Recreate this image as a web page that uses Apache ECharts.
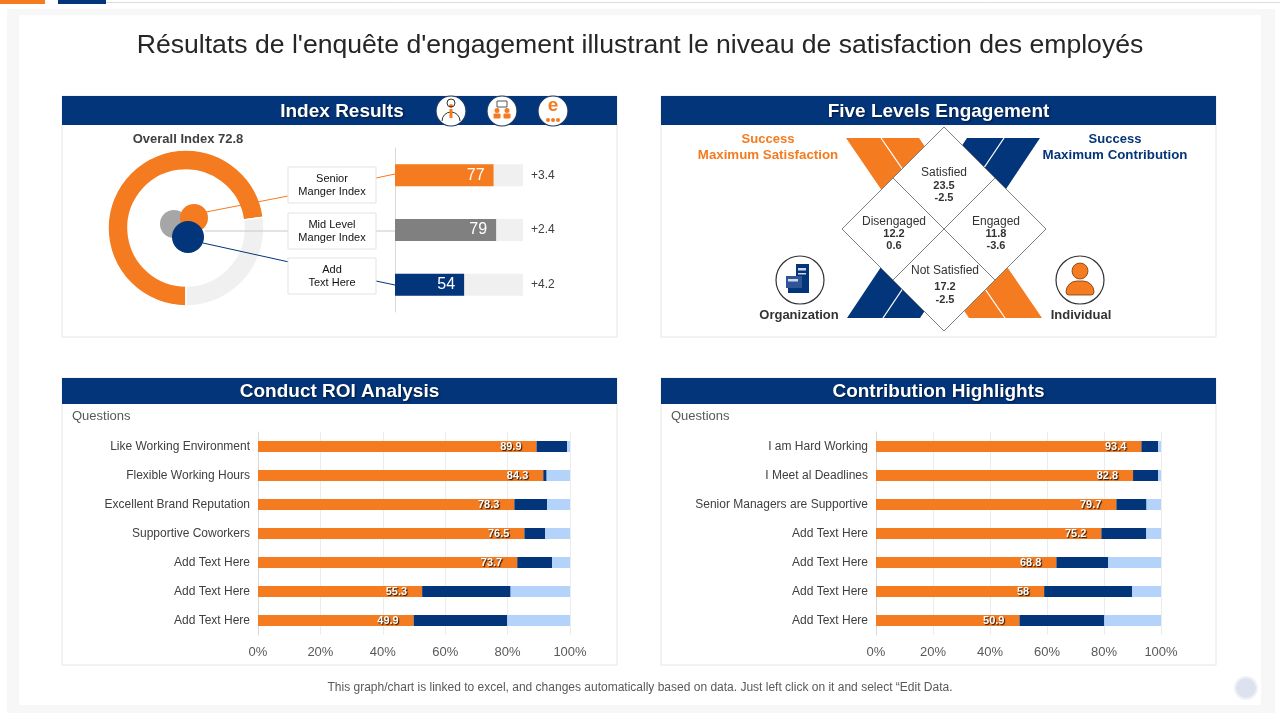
<!DOCTYPE html>
<html>
<head>
<meta charset="utf-8">
<title>Résultats de l'enquête d'engagement</title>
<script src="https://cdn.jsdelivr.net/npm/echarts@6/dist/echarts.min.js"></script>
<style>
    html, body { margin: 0; padding: 0; background: #fff; }
    #main { width: 1280px; height: 720px; }
</style>
</head>
<body>
<div id="main"></div>
<script>
var FONT = '"Liberation Sans", Arial, sans-serif';
var ORANGE = '#f47b20', NAVY = '#03357a', GREY = '#808080', LIGHT = '#b4d3fb';

// Index Results
var overallIndex = 72.8;
var indexNames = ['Senior\nManger Index', 'Mid Level\nManger Index', 'Add\nText Here'];
var indexValues = [77, 79, 54];
var indexChanges = ['+3.4', '+2.4', '+4.2'];

// Five Levels Engagement
var levelNames = ['Satisfied', 'Disengaged', 'Engaged', 'Not Satisfied'];
var levelValues = [23.5, 12.2, 11.8, 17.2];
var levelChanges = [-2.5, 0.6, -3.6, -2.5];

// Conduct ROI Analysis (three parts of each 100% bar)
var roiQuestions = ['Like Working Environment', 'Flexible Working Hours', 'Excellent Brand Reputation',
    'Supportive Coworkers', 'Add Text Here', 'Add Text Here', 'Add Text Here'];
var roiMain = [89.9, 84.3, 78.3, 76.5, 73.7, 55.3, 49.9];
var roiMid = [9.9, 1.0, 10.0, 6.0, 9.9, 29.8, 30.0];
var roiRest = [0.9, 6.9, 7.0, 7.1, 5.1, 20.0, 20.1];

// Contribution Highlights
var contQuestions = ['I am Hard Working', 'I Meet al Deadlines', 'Senior Managers are Supportive',
    'Add Text Here', 'Add Text Here', 'Add Text Here', 'Add Text Here'];
var contMain = [93.4, 82.8, 79.7, 75.2, 68.8, 58, 50.9];
var contMid = [5.9, 8.1, 10.0, 15.0, 19.8, 30.3, 30.1];
var contRest = [1.0, 0.9, 4.8, 4.9, 20.1, 10.0, 20.1];

var chart = echarts.init(document.getElementById('main'));

function txt(x, y, text, size, color, weight, align, extra) {
    var st = {
        x: x, y: y, text: text, fill: color, align: align || 'center', verticalAlign: 'middle',
        font: (weight || 'normal') + ' ' + size + 'px ' + FONT
    };
    for (var k in extra || {}) st[k] = extra[k];
    return { type: 'text', z: 110, style: st };
}

function panel(x, y, w, h, hh, title, tx) {
    return [
        { type: 'rect', z: 0, shape: { x: x, y: y, width: w, height: h }, style: { fill: '#fff', stroke: '#e6e6e6', lineWidth: 1 } },
        { type: 'rect', z: 1, shape: { x: x, y: y, width: w, height: hh }, style: { fill: NAVY } },
        txt(tx || x + w / 2, y + hh / 2 + 1, title, 19, '#fff', 'bold', 'center',
            { textShadowColor: 'rgba(0,0,0,0.55)', textShadowBlur: 2, textShadowOffsetX: 1, textShadowOffsetY: 1 })
    ];
}

function line(x1, y1, x2, y2, color, w, z) {
    return { type: 'line', z: z || 100, shape: { x1: x1, y1: y1, x2: x2, y2: y2 }, style: { stroke: color, lineWidth: w || 1 } };
}

function circle(cx, cy, r, fill, stroke, lw) {
    return { type: 'circle', z: 101, shape: { cx: cx, cy: cy, r: r }, style: { fill: fill, stroke: stroke || null, lineWidth: lw || 1 } };
}

function rect(x, y, w, h, fill, r) {
    return { type: 'rect', z: 102, shape: { x: x, y: y, width: w, height: h, r: r || 0 }, style: { fill: fill } };
}

var g = [];
// page frame
g.push({ type: 'rect', z: -2, shape: { x: 7, y: 9, width: 1268, height: 704 }, style: { fill: '#f7f7f7' } });
g.push({ type: 'rect', z: -1, shape: { x: 19, y: 15, width: 1242, height: 690 }, style: { fill: '#fff' } });
g.push({ type: 'rect', z: 5, shape: { x: 0, y: 0, width: 45, height: 4 }, style: { fill: ORANGE } });
g.push({ type: 'rect', z: 5, shape: { x: 58, y: 0, width: 48, height: 4 }, style: { fill: NAVY } });
g.push(line(106, 2.5, 1280, 2.5, '#dcdcdc', 1));

g.push(txt(640, 46, "Résultats de l'enquête d'engagement illustrant le niveau de satisfaction des employés", 26.6, '#262626'));
g.push(txt(640, 688, 'This graph/chart is linked to excel, and changes automatically based on data. Just left click on it and select \u201CEdit Data.', 12, '#595959'));
g.push(circle(1246, 688, 11, '#dde3ee', '#eef1f7', 2));

g = g.concat(panel(62, 96, 555, 241, 29, 'Index Results', 342));
g = g.concat(panel(661, 96, 555, 241, 29, 'Five Levels Engagement'));
g = g.concat(panel(62, 378, 555, 287, 26, 'Conduct ROI Analysis'));
g = g.concat(panel(661, 378, 555, 287, 26, 'Contribution Highlights'));

// header icons
[451, 502, 553].forEach(function (cx) { g.push(circle(cx, 111, 15, '#fff', '#1d3a6b', 1.2)); });
g.push({ type: 'circle', z: 102, shape: { cx: 451, cy: 103, r: 4 }, style: { fill: 'none', stroke: '#333', lineWidth: 1 } });
g.push({ type: 'arc', z: 102, shape: { cx: 451, cy: 121, r: 9, startAngle: Math.PI, endAngle: 2 * Math.PI }, style: { stroke: '#333', lineWidth: 1, fill: 'none' } });
g.push(circle(451, 106, 2, ORANGE)); g.push(rect(449.5, 109, 3, 9, ORANGE));
g.push({ type: 'rect', z: 102, shape: { x: 497, y: 101, width: 10, height: 6 }, style: { fill: '#fff', stroke: '#555', lineWidth: 1 } });
g.push(circle(497, 110.5, 2.5, ORANGE)); g.push(circle(507, 110.5, 2.5, ORANGE));
g.push(rect(493.5, 113.5, 7, 5, ORANGE, 1)); g.push(rect(503.5, 113.5, 7, 5, ORANGE, 1));
g.push(txt(553, 106, 'e', 19, ORANGE, 'bold'));
[548, 553, 558].forEach(function (cx) { g.push({ type: 'circle', z: 111, shape: { cx: cx, cy: 120, r: 2 }, style: { fill: ORANGE } }); });

// Index Results decorations
g.push(txt(188, 139, 'Overall Index ' + overallIndex, 13, '#404040', 'bold'));
g.push(line(206, 212, 288, 196, ORANGE)); g.push(line(376, 178, 395, 174, ORANGE));
g.push(line(205, 231, 288, 231, '#c8c8c8')); g.push(line(376, 231, 395, 231, '#c8c8c8'));
g.push(line(203, 243, 289, 262, NAVY)); g.push(line(376, 281, 395, 285, NAVY));
g.push(circle(174, 224, 14, '#a6a6a6'));
g.push(circle(194, 218, 14, ORANGE));
g.push(circle(188, 237, 16, NAVY));
var boxTop = [167, 213, 258];
indexNames.forEach(function (n, i) {
    g.push({ type: 'rect', z: 100, shape: { x: 288, y: boxTop[i], width: 88, height: 36 }, style: { fill: '#fff', stroke: '#e3e3e3', lineWidth: 1 } });
    g.push(txt(332, boxTop[i] + 18, n, 11, '#111', 'normal', 'center', { lineHeight: 13 }));
});

// Five Levels: crossing bands and diamond
g.push({ type: 'polygon', z: 96, shape: { points: [[846, 138], [919, 138], [1042, 318], [969, 318]] }, style: { fill: ORANGE } });
g.push({ type: 'polygon', z: 96, shape: { points: [[967, 138], [1040, 138], [920, 318], [847, 318]] }, style: { fill: NAVY } });
g.push(line(881, 138, 1005, 318, '#fff', 1.3, 97));
g.push(line(1004, 138, 883, 318, '#fff', 1.3, 97));
g.push({ type: 'polygon', z: 98, shape: { points: [[944, 127], [1046, 229], [944, 331], [842, 229]] }, style: { fill: '#fff', stroke: '#7f7f7f', lineWidth: 1 } });
g.push(line(893, 178, 995, 280, '#7f7f7f', 1, 99)); g.push(line(995, 178, 893, 280, '#7f7f7f', 1, 99));
var levelPos = [[944, 173, 12.5, 12.5], [894, 221.5, 12.5, 12], [996, 221.5, 12.5, 12], [945, 270.5, 16.5, 12.5]];
levelNames.forEach(function (n, i) {
    var p = levelPos[i];
    g.push(txt(p[0], p[1], n, 12, '#333'));
    g.push(txt(p[0], p[1] + p[2], String(levelValues[i]), 11, '#333', 'bold'));
    g.push(txt(p[0], p[1] + p[2] + p[3], String(levelChanges[i]), 11, '#333', 'bold'));
});
g.push(txt(768, 139, 'Success', 13, ORANGE, 'bold'));
g.push(txt(768, 155, 'Maximum Satisfaction', 13.3, ORANGE, 'bold'));
g.push(txt(1115, 139, 'Success', 13, NAVY, 'bold'));
g.push(txt(1115, 155, 'Maximum Contribution', 13.3, NAVY, 'bold'));
g.push(txt(799, 315, 'Organization', 13, '#333', 'bold'));
g.push(txt(1081, 315, 'Individual', 13, '#333', 'bold'));
// organization icon
g.push(circle(800, 280, 24, '#fff', '#333', 1.2));
g.push(rect(796, 264, 13, 29, NAVY));
g.push(rect(786, 276, 16, 12, '#2f5597'));
g.push(rect(788, 288, 14, 5, NAVY));
g.push(rect(798, 268, 8, 2.5, '#cfd8ea')); g.push(rect(798, 273, 8, 1.5, '#cfd8ea'));
g.push(rect(788, 279, 10, 2.5, '#cfd8ea'));
// individual icon
g.push(circle(1080, 280, 24, '#fff', '#333', 1.2));
g.push({ type: 'circle', z: 102, shape: { cx: 1080, cy: 271, r: 8 }, style: { fill: ORANGE, stroke: '#7a3a0e', lineWidth: 0.8 } });
g.push({ type: 'rect', z: 102, shape: { x: 1066, y: 281, width: 28, height: 14, r: [11, 11, 3, 3] }, style: { fill: ORANGE, stroke: '#7a3a0e', lineWidth: 0.8 } });

g.push(txt(72, 416, 'Questions', 13, '#595959', 'normal', 'left'));
g.push(txt(671, 416, 'Questions', 13, '#595959', 'normal', 'left'));

function stacked(idx, main, mid, rest) {
    var tot = main.map(function (v, i) { return v + mid[i] + rest[i]; });
    function pct(arr) { return arr.map(function (v, i) { return v / tot[i] * 100; }); }
    var common = { type: 'bar', xAxisIndex: idx, yAxisIndex: idx, stack: 's' + idx, barWidth: 11, silent: true };
    return [
        echarts.util.merge({
            data: pct(main), itemStyle: { color: ORANGE },
            label: {
                show: true, position: 'insideRight', distance: 15,
                formatter: function (p) { return main[p.dataIndex]; },
                color: '#fff', fontWeight: 'bold', fontSize: 11, fontFamily: FONT,
                textShadowColor: 'rgba(0,0,0,0.85)', textShadowBlur: 1, textShadowOffsetX: 1, textShadowOffsetY: 1
            }
        }, common),
        echarts.util.merge({ data: pct(mid), itemStyle: { color: NAVY } }, common),
        echarts.util.merge({ data: pct(rest), itemStyle: { color: LIGHT } }, common)
    ];
}

function pctX(idx) {
    return {
        gridIndex: idx, type: 'value', min: 0, max: 100, interval: 20,
        axisLine: { show: false }, axisTick: { show: false },
        axisLabel: { formatter: '{value}%', fontSize: 13, color: '#595959', fontFamily: FONT, margin: 11 },
        splitLine: { lineStyle: { color: '#ececec' } }
    };
}

function catY(idx, data) {
    return {
        gridIndex: idx, type: 'category', data: data, inverse: true,
        axisLine: { lineStyle: { color: '#d9d9d9' } }, axisTick: { show: false },
        axisLabel: { fontSize: 12, color: '#404040', fontFamily: FONT, margin: 8 }
    };
}

chart.setOption({
    backgroundColor: '#fff',
    animation: false,
    graphic: { elements: g },
    grid: [
        { left: 395, top: 148, width: 128, height: 164 },
        { left: 258, top: 432, width: 312, height: 203 },
        { left: 876, top: 432, width: 285, height: 203 }
    ],
    xAxis: [
        { gridIndex: 0, type: 'value', min: 0, max: 100, show: false },
        pctX(1), pctX(2)
    ],
    yAxis: [
        {
            gridIndex: 0, type: 'category', data: indexNames, inverse: true,
            axisLine: { lineStyle: { color: '#d9d9d9' } }, axisTick: { show: false }, axisLabel: { show: false }
        },
        catY(1, roiQuestions), catY(2, contQuestions)
    ],
    series: [
        {
            type: 'pie', silent: true, center: [186, 228], radius: [58, 78], startAngle: -90,
            label: { show: false }, labelLine: { show: false },
            itemStyle: { borderColor: '#fff', borderWidth: 1.5 },
            data: [
                { value: overallIndex, itemStyle: { color: ORANGE } },
                { value: 100 - overallIndex, itemStyle: { color: '#f0f0f0' } }
            ]
        },
        {
            type: 'bar', silent: true, xAxisIndex: 0, yAxisIndex: 0, barWidth: 22,
            data: indexValues.map(function () { return 100; }),
            itemStyle: { color: '#f0f0f0' },
            label: {
                show: true, position: 'right', distance: 8, fontSize: 12, color: '#404040', fontFamily: FONT,
                formatter: function (p) { return indexChanges[p.dataIndex]; }
            }
        },
        {
            type: 'bar', silent: true, xAxisIndex: 0, yAxisIndex: 0, barWidth: 22, barGap: '-100%',
            data: indexValues.map(function (v, i) { return { value: v, itemStyle: { color: [ORANGE, GREY, NAVY][i] } }; }),
            label: { show: true, position: 'insideRight', distance: 9, fontSize: 16, color: '#fff', fontFamily: FONT }
        }
    ].concat(stacked(1, roiMain, roiMid, roiRest), stacked(2, contMain, contMid, contRest))
});
</script>
</body>
</html>
